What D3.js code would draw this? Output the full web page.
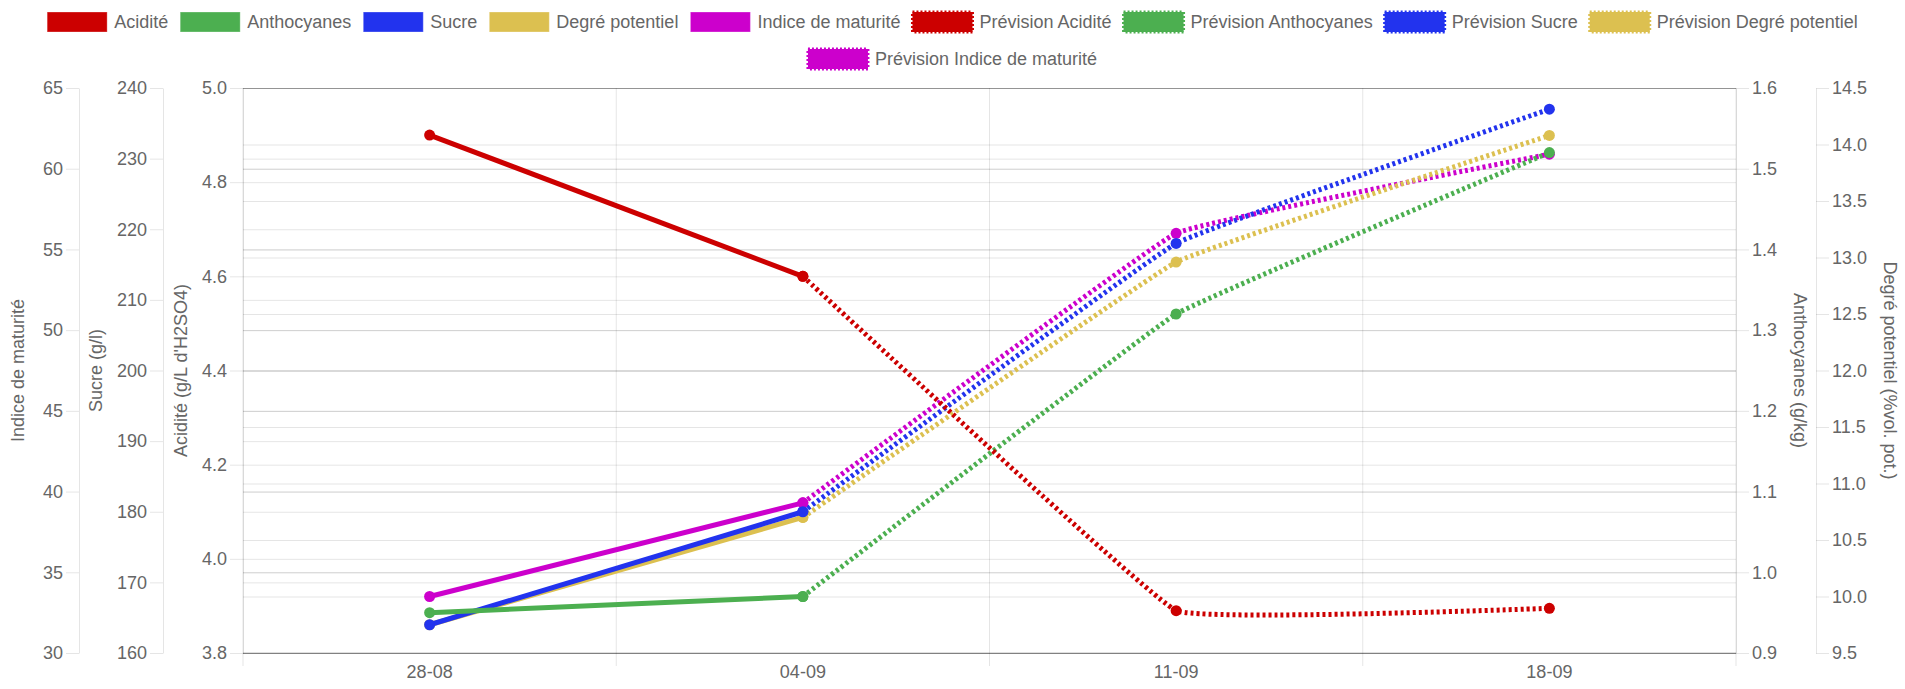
<!DOCTYPE html>
<html>
<head>
<meta charset="utf-8">
<script src="https://cdn.jsdelivr.net/npm/d3@7"></script>
<style>
  html, body { margin: 0; padding: 0; background: #fff; }
  svg text { font-family: "Liberation Sans", Arial, Helvetica, sans-serif; fill: #666; }
</style>
</head>
<body>
<div id="chart"></div>
<script>
// ── Données ─────────────────────────────────────────────────────
const dates = ["28-08", "04-09", "11-09", "18-09"];

const acidite      = [4.90, 4.60, null, null];
const anthocyanes  = [0.95, 0.97, null, null];
const sucre        = [164, 180, null, null];
const degre        = [9.75, 10.7, null, null];
const maturite     = [33.5, 39.3, null, null];

const prevAcidite     = [null, 4.60, 3.89, 3.895];
const prevAnthocyanes = [null, 0.97, 1.32, 1.52];
const prevSucre       = [null, 180, 218, 237];
const prevDegre       = [null, 10.7, 12.96, 14.08];
const prevMaturite    = [null, 39.3, 56.0, 60.9];

const seriesNames = ["Acidité", "Anthocyanes", "Sucre", "Degré potentiel", "Indice de maturité",
  "Prévision Acidité", "Prévision Anthocyanes", "Prévision Sucre", "Prévision Degré potentiel",
  "Prévision Indice de maturité"];

// domaines et pas des axes
const acidDomain = [3.8, 5.0], acidStep = 0.2;
const anthoDomain = [0.9, 1.6], anthoStep = 0.1;
const sucreDomain = [160, 240], sucreStep = 10;
const degreDomain = [9.5, 14.5], degreStep = 0.5;
const matDomain = [30, 65], matStep = 5;

const COLORS = {
  acid: "#cc0000",
  antho: "#4caf50",
  sucre: "#2233ee",
  degre: "#dcc050",
  mat: "#cc00cc"
};

// ── Mise en page ───────────────────────────────────────────────
const W = 1905, H = 689;
const pLeft = 243, pRight = 1736, pTop = 88, pBottom = 653;
const tickLen = 13;
const GRID = "rgba(0,0,0,0.1)";

const svg = d3.select("#chart").append("svg")
  .attr("width", W).attr("height", H);

const ticksOf = (dom, step) => d3.range(dom[0], dom[1] + step / 2, step).map(v => +v.toFixed(3));

const yAcid = d3.scaleLinear().domain(acidDomain).range([pBottom, pTop]);
const yAntho = d3.scaleLinear().domain(anthoDomain).range([pBottom, pTop]);
const ySucre = d3.scaleLinear().domain(sucreDomain).range([pBottom, pTop]);
const yDegre = d3.scaleLinear().domain(degreDomain).range([pBottom, pTop]);
const yMat = d3.scaleLinear().domain(matDomain).range([pBottom, pTop]);

const x = d3.scaleBand().domain(dates).range([pLeft, pRight]);
const cx = d => x(d) + x.bandwidth() / 2;

// axes y : position, côté, format, titre
const yAxes = [
  { scale: yMat, ticks: ticksOf(matDomain, matStep), fmt: d3.format("d"), pos: 79, side: "left", title: "Indice de maturité", tx: 18 },
  { scale: ySucre, ticks: ticksOf(sucreDomain, sucreStep), fmt: d3.format("d"), pos: 163, side: "left", title: "Sucre (g/l)", tx: 96 },
  { scale: yAcid, ticks: ticksOf(acidDomain, acidStep), fmt: d3.format(".1f"), pos: pLeft, side: "left", title: "Acidité (g/L d'H2SO4)", tx: 181 },
  { scale: yAntho, ticks: ticksOf(anthoDomain, anthoStep), fmt: d3.format(".1f"), pos: pRight, side: "right", title: "Anthocyanes (g/kg)", tx: 1800 },
  { scale: yDegre, ticks: ticksOf(degreDomain, degreStep), fmt: d3.format(".1f"), pos: 1816, side: "right", title: "Degré potentiel (%vol. pot.)", tx: 1890 }
];

// lignes de grille horizontales (une série par axe, elles se superposent)
yAxes.forEach(a => {
  const g = svg.append("g").attr("transform", `translate(${pLeft},0)`)
    .call(d3.axisRight(a.scale).tickValues(a.ticks).tickSize(pRight - pLeft).tickFormat(""));
  g.select(".domain").remove();
  g.selectAll("line").attr("stroke", GRID);
});

// grille verticale (entre les catégories)
const xEdges = dates.map(d => x(d)).concat([x.range()[1]]);
svg.append("g").selectAll("line").data(xEdges).join("line")
  .attr("x1", d => d).attr("x2", d => d)
  .attr("y1", pTop).attr("y2", pBottom + tickLen)
  .attr("stroke", GRID);

// bordure bas
svg.append("line").attr("x1", pLeft).attr("x2", pRight).attr("y1", pBottom).attr("y2", pBottom)
  .attr("stroke", "rgba(0,0,0,0.25)");

// axes y
yAxes.forEach(a => {
  const axis = (a.side === "left" ? d3.axisLeft(a.scale) : d3.axisRight(a.scale))
    .tickValues(a.ticks).tickFormat(a.fmt).tickSize(tickLen).tickSizeOuter(0).tickPadding(3);
  const g = svg.append("g").attr("transform", `translate(${a.pos},0)`).call(axis);
  g.select(".domain").attr("stroke", GRID);
  g.selectAll("line").attr("stroke", GRID);
  g.selectAll("text").style("font-size", "18px").attr("fill", "#666");

  svg.append("text")
    .attr("transform", `translate(${a.tx},${(pTop + pBottom) / 2}) rotate(${a.side === "left" ? -90 : 90})`)
    .attr("text-anchor", "middle")
    .attr("dy", "0.35em")
    .style("font-size", "18px")
    .text(a.title);
});

// axe x (étiquettes au centre des catégories)
const gx = svg.append("g").attr("transform", `translate(0,${pBottom})`)
  .call(d3.axisBottom(x).tickSize(0).tickPadding(12));
gx.select(".domain").remove();
gx.selectAll("text").style("font-size", "18px").attr("fill", "#666");

// ── Séries ─────────────────────────────────────────────────────
const series = [
  { name: seriesNames[0], values: acidite, y: yAcid, color: COLORS.acid, dashed: false },
  { name: seriesNames[1], values: anthocyanes, y: yAntho, color: COLORS.antho, dashed: false },
  { name: seriesNames[2], values: sucre, y: ySucre, color: COLORS.sucre, dashed: false },
  { name: seriesNames[3], values: degre, y: yDegre, color: COLORS.degre, dashed: false },
  { name: seriesNames[4], values: maturite, y: yMat, color: COLORS.mat, dashed: false },
  { name: seriesNames[5], values: prevAcidite, y: yAcid, color: COLORS.acid, dashed: true },
  { name: seriesNames[6], values: prevAnthocyanes, y: yAntho, color: COLORS.antho, dashed: true },
  { name: seriesNames[7], values: prevSucre, y: ySucre, color: COLORS.sucre, dashed: true },
  { name: seriesNames[8], values: prevDegre, y: yDegre, color: COLORS.degre, dashed: true },
  { name: seriesNames[9], values: prevMaturite, y: yMat, color: COLORS.mat, dashed: true }
];

const plot = svg.append("g");
// comme Chart.js : le premier jeu de données est dessiné au-dessus
series.slice().reverse().forEach(s => {
  const pts = dates.map((d, i) => ({ d, v: s.values[i] })).filter(p => p.v != null);
  const line = d3.line()
    .x(p => cx(p.d)).y(p => s.y(p.v))
    .curve(s.dashed ? d3.curveCardinal.tension(0.8) : d3.curveLinear);
  plot.append("path")
    .attr("d", line(pts))
    .attr("fill", "none")
    .attr("stroke", s.color)
    .attr("stroke-width", 5)
    .attr("stroke-dasharray", s.dashed ? "3,3" : null);
  plot.append("g").selectAll("circle").data(pts).join("circle")
    .attr("cx", p => cx(p.d)).attr("cy", p => s.y(p.v))
    .attr("r", 5.5)
    .attr("fill", s.color);
});

// ── Légende ────────────────────────────────────────────────────
const boxW = 60, boxH = 20, gap = 7, pad = 12, maxRow = W - 40;
const rowY = [22, 59];
const legend = svg.append("g");
const items = series.map(s => {
  const t = legend.append("text").style("font-size", "18px").attr("dy", "0.35em").text(s.name);
  return { s, t, w: boxW + gap + t.node().getComputedTextLength() };
});
const rows = [[]];
let rowW = 0;
items.forEach(it => {
  const add = (rows[rows.length - 1].length ? pad : 0) + it.w;
  if (rowW + add > maxRow) { rows.push([it]); rowW = it.w; }
  else { rows[rows.length - 1].push(it); rowW += add; }
});
rows.forEach((row, r) => {
  const total = d3.sum(row, it => it.w) + pad * (row.length - 1);
  let xx = (W - total) / 2;
  const yy = rowY[r];
  row.forEach(it => {
    legend.append("rect")
      .attr("x", xx).attr("y", yy - boxH / 2)
      .attr("width", boxW).attr("height", boxH)
      .attr("fill", it.s.color)
      .attr("stroke", it.s.dashed ? it.s.color : "rgba(255,255,255,0.3)")
      .attr("stroke-width", it.s.dashed ? 3 : 1)
      .attr("stroke-dasharray", it.s.dashed ? "2,2" : null);
    it.t.attr("x", xx + boxW + gap).attr("y", yy);
    xx += it.w + pad;
  });
});
</script>
</body>
</html>
